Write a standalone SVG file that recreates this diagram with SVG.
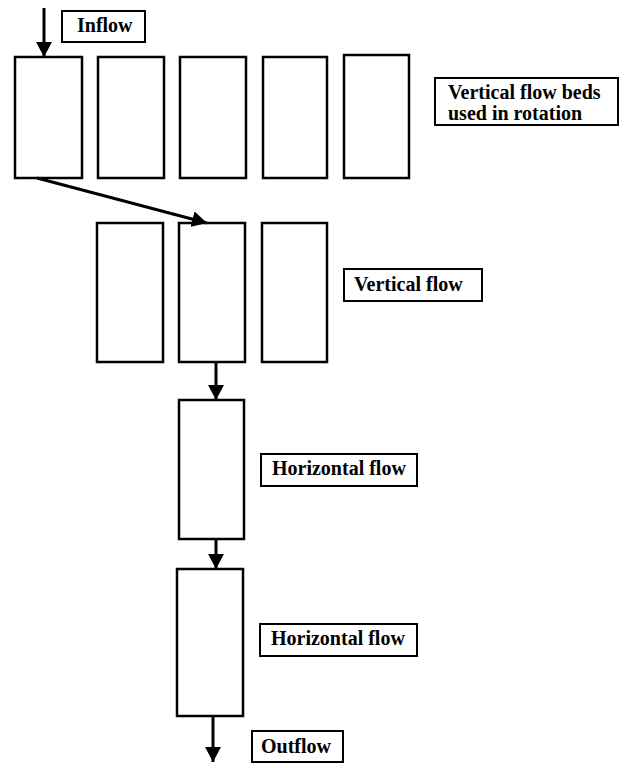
<svg xmlns="http://www.w3.org/2000/svg" width="635" height="768" viewBox="0 0 635 768">
<defs>
<marker id="ah" markerUnits="userSpaceOnUse" markerWidth="15" markerHeight="16" refX="15" refY="8" orient="auto">
<path d="M0,0 L15,8 L0,16 z" fill="#000"/>
</marker>
<style>
.bed{fill:#fff;stroke:#000;stroke-width:2.5}
.lbl{fill:#fff;stroke:#000;stroke-width:2}
.t{font-weight:bold;font-size:20px;fill:#000}
.c{stroke:#000;stroke-width:3;fill:none;marker-end:url(#ah)}
</style>
</defs>
<rect width="635" height="768" fill="#fff"/>
<g id="bed-r1-1"><rect class="bed" x="15" y="57" width="67" height="121"/></g>
<g id="bed-r1-2"><rect class="bed" x="98" y="57" width="66" height="121"/></g>
<g id="bed-r1-3"><rect class="bed" x="180" y="57" width="66" height="121"/></g>
<g id="bed-r1-4"><rect class="bed" x="263" y="57" width="64" height="121"/></g>
<g id="bed-r1-5"><rect class="bed" x="344" y="55" width="65" height="123"/></g>
<g id="bed-r2-1"><rect class="bed" x="97" y="223" width="66" height="139"/></g>
<g id="bed-r2-2"><rect class="bed" x="179" y="223" width="66" height="139"/></g>
<g id="bed-r2-3"><rect class="bed" x="262" y="223" width="65" height="139"/></g>
<g id="bed-h1"><rect class="bed" x="179" y="400" width="65" height="139"/></g>
<g id="bed-h2"><rect class="bed" x="177" y="569" width="66" height="147"/></g>
<g font-family="'Liberation Serif', 'Times New Roman', 'DejaVu Serif', serif">
<g id="label-inflow"><rect class="lbl" x="62" y="11" width="83" height="31"/><text class="t" x="77" y="32">Inflow</text></g>
<g id="label-rotation"><rect class="lbl" x="435" y="78" width="183" height="47"/><text class="t" x="448" y="99">Vertical flow beds</text><text class="t" x="448" y="120">used in rotation</text></g>
<g id="label-vertical"><rect class="lbl" x="344" y="269" width="138" height="32"/><text class="t" x="354" y="291">Vertical flow</text></g>
<g id="label-h1"><rect class="lbl" x="261" y="454" width="156" height="32"/><text class="t" x="272" y="475">Horizontal flow</text></g>
<g id="label-h2"><rect class="lbl" x="260" y="624" width="157" height="32"/><text class="t" x="271" y="645">Horizontal flow</text></g>
<g id="label-outflow"><rect class="lbl" x="252" y="731" width="91" height="31"/><text class="t" x="261" y="753">Outflow</text></g>
</g>
<g id="connectors">
<line class="c" x1="44" y1="8" x2="44" y2="57"/>
<line class="c" x1="37" y1="178" x2="207" y2="223"/>
<line class="c" x1="216" y1="362" x2="216" y2="400"/>
<line class="c" x1="216" y1="539" x2="216" y2="569"/>
<line class="c" x1="213" y1="716" x2="213" y2="762"/>
</g>
</svg>
